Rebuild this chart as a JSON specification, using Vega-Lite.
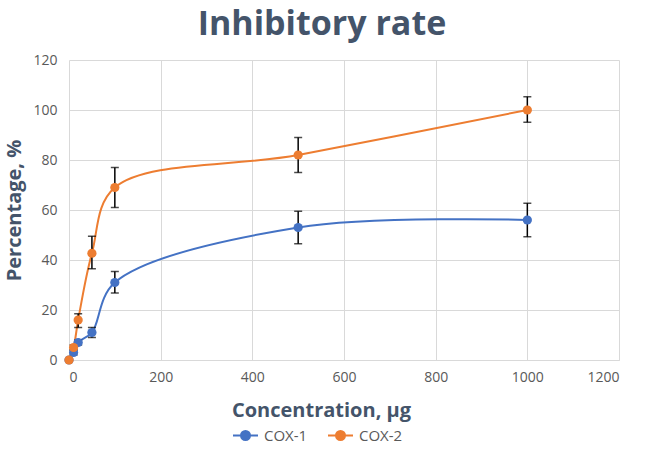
{
  "$schema": "https://vega.github.io/schema/vega-lite/v6.json",
  "width": 550,
  "height": 300,
  "autosize": {"type": "none"},
  "padding": {"left": 69, "top": 60, "right": 30, "bottom": 94},
  "background": "white",
  "title": {
    "text": "Inhibitory rate",
    "fontSize": 34,
    "font": "Open Sans",
    "fontWeight": "bold",
    "color": "#44546A",
    "anchor": "middle",
    "dx": -22,
    "offset": 11
  },
  "config": {
    "view": {"stroke": null},
    "font": "Open Sans",
    "axis": {
      "gridColor": "#D9D9D9",
      "gridWidth": 1,
      "domainColor": "#D9D9D9",
      "ticks": false,
      "labelColor": "#595959",
      "labelFontSize": 14,
      "labelFont": "Open Sans",
      "titleColor": "#44546A",
      "titleFontSize": 20,
      "titleFont": "Open Sans",
      "titleFontWeight": "bold"
    }
  },
  "data": {
    "values": [
      {"series": "COX-1", "conc": 0, "val": 0, "lo": 0, "hi": 0},
      {"series": "COX-1", "conc": 10, "val": 3, "lo": 2, "hi": 4},
      {"series": "COX-1", "conc": 20, "val": 7, "lo": 6, "hi": 8},
      {"series": "COX-1", "conc": 50, "val": 11, "lo": 9, "hi": 13},
      {"series": "COX-1", "conc": 100, "val": 31, "lo": 26.8, "hi": 35.4},
      {"series": "COX-1", "conc": 500, "val": 53, "lo": 46.5, "hi": 59.5},
      {"series": "COX-1", "conc": 1000, "val": 56, "lo": 49.3, "hi": 62.7},
      {"series": "COX-2", "conc": 0, "val": 0, "lo": 0, "hi": 0},
      {"series": "COX-2", "conc": 10, "val": 5, "lo": 4, "hi": 6},
      {"series": "COX-2", "conc": 20, "val": 16, "lo": 13, "hi": 18.5},
      {"series": "COX-2", "conc": 50, "val": 42.7, "lo": 36.5, "hi": 49.5},
      {"series": "COX-2", "conc": 100, "val": 69, "lo": 61, "hi": 77},
      {"series": "COX-2", "conc": 500, "val": 82, "lo": 75, "hi": 89},
      {"series": "COX-2", "conc": 1000, "val": 100, "lo": 95.1, "hi": 105.3}
    ]
  },
  "encoding": {
    "x": {
      "field": "conc",
      "type": "quantitative",
      "scale": {"domain": [0, 1200], "nice": false},
      "axis": {"values": [0, 200, 400, 600, 800, 1000, 1200], "format": "d", "title": "Concentration, µg", "labelPadding": 10, "titlePadding": 16, "titleX": 252}
    },
    "y": {
      "field": "val",
      "type": "quantitative",
      "scale": {"domain": [0, 120], "nice": false},
      "axis": {"values": [0, 20, 40, 60, 80, 100, 120], "title": "Percentage, %", "labelPadding": 12, "titlePadding": 8, "domain": false}
    }
  },
  "layer": [
    {
      "mark": {"type": "line", "interpolate": "catmull-rom", "strokeWidth": 2},
      "encoding": {
        "color": {
          "field": "series",
          "type": "nominal",
          "scale": {"domain": ["COX-1", "COX-2"], "range": ["#4472C4", "#ED7D31"]},
          "legend": {
            "title": null,
            "orient": "none",
            "direction": "horizontal",
            "legendX": 163,
            "legendY": 362,
            "symbolType": "M-1,0L1,0M0.36,0A0.36,0.36,0,1,1,-0.36,0A0.36,0.36,0,1,1,0.36,0",
            "symbolSize": 625,
            "symbolStrokeWidth": 2,
            "labelFontSize": 15,
            "labelColor": "#595959",
            "labelFont": "Open Sans",
            "labelOffset": 5,
            "columnPadding": 16,
            "encode": {"symbols": {"update": {"fill": {"scale": "color", "field": "value"}, "stroke": {"scale": "color", "field": "value"}, "opacity": {"value": 1}}}}
          }
        }
      }
    },
    {
      "mark": {"type": "errorbar", "color": "black", "thickness": 1.5, "ticks": {"size": 8, "color": "black", "thickness": 1.5}},
      "encoding": {
        "y": {"field": "lo", "type": "quantitative"},
        "y2": {"field": "hi"}
      }
    },
    {
      "mark": {"type": "point", "filled": true, "opacity": 1, "size": 85},
      "encoding": {
        "color": {"field": "series", "type": "nominal", "legend": null}
      }
    }
  ]
}
